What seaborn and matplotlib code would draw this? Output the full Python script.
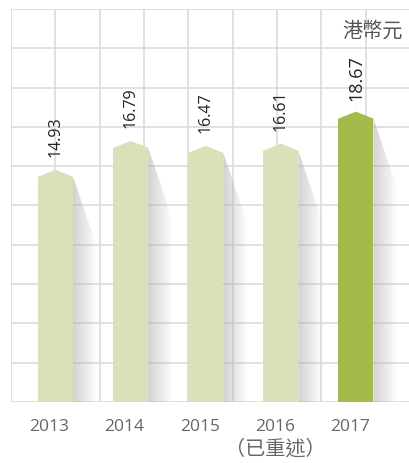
import numpy as np
import matplotlib
matplotlib.use("Agg")
import matplotlib.pyplot as plt
import matplotlib.transforms as mtransforms
from matplotlib.patches import Polygon
import seaborn as sns

# data
years = ["2013", "2014", "2015", "2016", "2017"]
restated_note = "（已重述）"   # shown under 2016
eps = [14.93, 16.79, 16.47, 16.61, 18.67]
bar_colors = ["#dae1b9", "#dae1b9", "#dae1b9", "#dae1b9", "#a2bb4a"]
unit_label = "港幣元"

CAP = 0.45        # height of the pointed bar top
X_LIM = (-0.593, 4.72)
Y_LIM = (0, 25.27)


def add_shadow(ax, x1, h):
    # gray gradient falling to the right of a bar
    dx, drop = 0.32, 4.5
    poly = Polygon([(x1, h), (x1 + dx, h - drop), (x1 + dx, 0), (x1, 0)],
                   closed=True, transform=ax.transData)
    fade = np.linspace(1, 0, 64)
    img = np.zeros((1, 64, 4))
    img[..., :3] = 0.68
    img[..., 3] = 0.55 * fade
    im = ax.imshow(img, extent=[x1, x1 + dx, 0, h], aspect="auto",
                   interpolation="bilinear", zorder=2)
    im.set_clip_path(poly)


def main():
    sns.set_theme(style="white")
    plt.rcParams["font.family"] = ["Open Sans", "Noto Sans CJK TC", "DejaVu Sans"]

    fig = plt.figure(figsize=(4.1, 4.63), dpi=100)
    ax = fig.add_axes([0.0268, 0.1318, 0.9732, 0.8488])

    body = [v - CAP for v in eps]
    sns.barplot(x=years, y=body, hue=years, palette=bar_colors, legend=False,
                width=0.466, saturation=1, linewidth=0, ax=ax, zorder=3)

    bars = list(ax.patches)
    for i, p in enumerate(bars):
        x0, w, h = p.get_x(), p.get_width(), p.get_height()
        x1, xc = x0 + w, x0 + w / 2
        # pointed top
        ax.add_patch(Polygon([(x0, h - 0.05), (x0, h), (xc, h + CAP), (x1, h), (x1, h - 0.05)],
                             closed=True, facecolor=p.get_facecolor(), edgecolor="none", zorder=3))
        add_shadow(ax, x1, h)
        last = i == len(bars) - 1
        ax.text(xc, eps[i] + (0.7 if last else 0.84), f"{eps[i]:.2f}", rotation=90,
                ha="center", va="bottom", fontsize=13 if last else 11.5, color="#222222")

    ax.set_xlim(*X_LIM)
    ax.set_ylim(*Y_LIM)

    # decorative grid
    ax.set_xticks(np.linspace(X_LIM[0], X_LIM[1], 10), minor=True)
    ax.set_yticks(np.linspace(Y_LIM[0], Y_LIM[1], 11), minor=True)
    ax.set_yticks([])
    ax.grid(True, which="minor", color="#d9d9d9", linewidth=1.1, zorder=0)
    ax.set_axisbelow(True)

    ax.set_xticks(range(len(years)))
    ax.set_xticklabels(years)
    ax.tick_params(axis="x", which="both", length=0, pad=12, labelsize=12.5, labelcolor="#666666")
    shift = mtransforms.ScaledTranslation(-6 / 100, 0, fig.dpi_scale_trans)
    for t in ax.get_xticklabels():
        t.set_transform(t.get_transform() + shift)
    note_tr = mtransforms.blended_transform_factory(ax.transData, fig.transFigure) + shift
    ax.text(years.index("2016"), 0.028, restated_note, transform=note_tr, ha="center",
            va="center", fontsize=14.5, color="#666666")
    ax.set_xlabel("")
    ax.set_ylabel("")
    for s in ax.spines.values():
        s.set_visible(False)

    fig.text(0.981, 0.931, unit_label, ha="right", va="center", fontsize=14.5, color="#555555")

    fig.savefig("out.png", dpi=100)


if __name__ == "__main__":
    main()
